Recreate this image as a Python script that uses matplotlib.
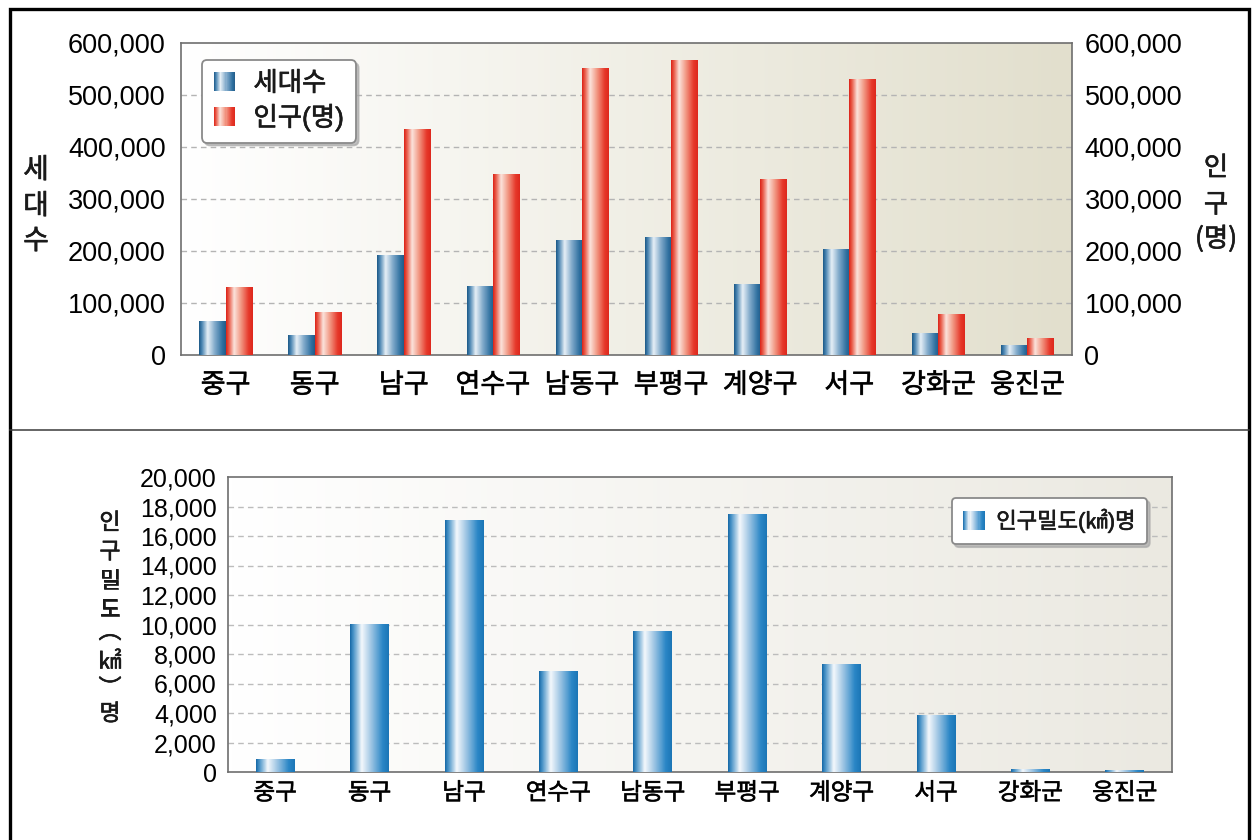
import numpy as np
import matplotlib
matplotlib.use("Agg")
from matplotlib import pyplot as plt
from matplotlib import patheffects
from matplotlib.colors import LinearSegmentedColormap
from matplotlib.patches import Rectangle, Patch
from matplotlib.lines import Line2D
from matplotlib.legend_handler import HandlerBase
from matplotlib.ticker import StrMethodFormatter

plt.rcParams["font.family"] = ["Liberation Sans", "Noto Sans CJK KR"]
plt.rcParams["text.color"] = "#1a1a1a"

districts = ["중구", "동구", "남구", "연수구", "남동구", "부평구", "계양구", "서구", "강화군", "웅진군"]
households = [64000, 38000, 191000, 131000, 221000, 225000, 136000, 203000, 42000, 19000]
population = [129000, 81000, 433000, 348000, 551000, 566000, 338000, 530000, 78000, 31000]
density = [840, 10030, 17030, 6840, 9530, 17490, 7320, 3800, 160, 120]

W, H = 1252, 840
KR = ["Noto Sans CJK KR"]
# slightly heavier than the regular cut for the Korean labels
THICK = [patheffects.withStroke(linewidth=0.45, foreground="#1a1a1a")]

# cylinder-like shading for the bars
steel = LinearSegmentedColormap.from_list("steel", [
    (0.0, "#1d5a88"), (0.1, "#4a85b2"), (0.32, "#e6eff6"),
    (0.6, "#7ea8c9"), (0.88, "#2e6f9f"), (1.0, "#245c88")])
red = LinearSegmentedColormap.from_list("red", [
    (0.0, "#dc2419"), (0.1, "#e95a48"), (0.3, "#fbe3db"),
    (0.55, "#f29a86"), (0.85, "#e6382a"), (1.0, "#de281d")])
sky = LinearSegmentedColormap.from_list("sky", [
    (0.0, "#186aa8"), (0.08, "#4a94c8"), (0.3, "#f4f8fc"),
    (0.55, "#9cc4e3"), (0.85, "#2a86c6"), (1.0, "#1c76b6")])


def px(x, y):
    return x / W, 1 - y / H


def shade_bars(ax, bars, cmap):
    grad = cmap(np.linspace(0, 1, 64))[None, :, :3]
    for r in bars:
        x0, w, h = r.get_x(), r.get_width(), r.get_height()
        ax.imshow(grad, extent=[x0, x0 + w, 0, h], aspect="auto",
                  interpolation="bilinear", zorder=3)
        r.set_visible(False)


def paint_background(ax, right_color):
    c0 = np.array([1.0, 1.0, 1.0])
    c1 = np.array(matplotlib.colors.to_rgb(right_color))
    t = np.linspace(0, 1, 128)[:, None]
    bg = (c0 + (c1 - c0) * t)[None, :, :]
    ax.imshow(bg, extent=[0, 1, 0, 1], transform=ax.transAxes, aspect="auto",
              interpolation="bilinear", zorder=0)


class GradientHandler(HandlerBase):
    def __init__(self, cmap):
        super().__init__()
        self.cmap = cmap

    def create_artists(self, legend, orig_handle, xdescent, ydescent,
                       width, height, fontsize, trans):
        n = 20
        out = []
        for i in range(n):
            out.append(Rectangle((-xdescent + width * i / n, -ydescent),
                                 width / n * 1.05, height,
                                 facecolor=self.cmap((i + 0.5) / n),
                                 edgecolor="none", transform=trans))
        return out


def style_axes(ax):
    for s in ax.spines.values():
        s.set_color("#6e6e6e")
        s.set_linewidth(1.2)
    ax.tick_params(length=0)


fig = plt.figure(figsize=(W / 100, H / 100), dpi=100)
x = np.arange(len(districts))

# ---- top: households / population ----
ax = fig.add_axes([181 / W, 1 - 355 / H, (1072 - 181) / W, (355 - 43) / H])
ax2 = ax.twinx()
paint_background(ax, "#e2dfcd")
bw = 0.295
b1 = ax.bar(x - bw / 2, households, bw)
b2 = ax2.bar(x + bw / 2, population, bw)
shade_bars(ax, b1, steel)
shade_bars(ax2, b2, red)
for a in (ax, ax2):
    a.set_xlim(-0.5, len(districts) - 0.5)
    a.set_ylim(0, 600000)
    a.set_yticks(range(0, 600001, 100000))
    a.yaxis.set_major_formatter(StrMethodFormatter("{x:,.0f}"))
    style_axes(a)
ax.set_xticks(x)
ax.set_xticklabels(districts, fontsize=19.5, family=KR, path_effects=THICK)
ax.tick_params(axis="x", pad=12)
ax.tick_params(axis="y", labelsize=19.5, pad=11)
ax2.tick_params(axis="y", labelsize=19.5, pad=9)
for s in ax2.spines.values():
    s.set_visible(False)
for g in range(100000, 600000, 100000):
    ax.axhline(g, color="#b4b4b4", lw=1.0, ls=(0, (4, 3)), zorder=1)

h1 = Patch(label="세대수")
h2 = Patch(label="인구(명)")
leg = ax2.legend(handles=[h1, h2], loc="upper left",
                 bbox_to_anchor=(21 / 891, 1 - 17 / 312), borderaxespad=0,
                 prop={"size": 19},
                 handlelength=0.8, handleheight=0.75,
                 handletextpad=0.7, labelspacing=0.3, borderpad=0.45,
                 fancybox=True, framealpha=1, edgecolor="#8a8a8a",
                 shadow={"color": "#a8a8a8", "alpha": 0.7},
                 handler_map={h1: GradientHandler(steel), h2: GradientHandler(red)})
leg.get_frame().set_linewidth(1.3)
for t in leg.get_texts():
    t.set_path_effects(THICK)

for ch, yy in zip("세대수", [170, 206, 241]):
    fig.text(*px(36, yy), ch, fontsize=20, ha="center", va="center",
             family=KR, path_effects=THICK)
for ch, yy in zip(["인", "구", "(명)"], [168, 205, 239]):
    fig.text(*px(1216, yy), ch, fontsize=19, ha="center", va="center",
             family=KR, path_effects=THICK)

# ---- bottom: population density ----
bx = fig.add_axes([228 / W, 1 - 772 / H, (1172 - 228) / W, (772 - 477) / H])
paint_background(bx, "#ebe9e1")
b3 = bx.bar(x, density, 0.41)
shade_bars(bx, b3, sky)
bx.set_xlim(-0.5, len(districts) - 0.5)
bx.set_ylim(0, 20000)
bx.set_yticks(range(0, 20001, 2000))
bx.yaxis.set_major_formatter(StrMethodFormatter("{x:,.0f}"))
bx.set_xticks(x)
bx.set_xticklabels(districts, fontsize=17, family=KR, path_effects=THICK)
bx.tick_params(axis="x", pad=7)
bx.tick_params(axis="y", labelsize=18, pad=8)
style_axes(bx)
for g in range(2000, 20000, 2000):
    bx.axhline(g, color="#bcbcbc", lw=1.0, ls=(0, (4, 3)), zorder=1)

h3 = Patch(label="인구밀도(㎢)명")
leg2 = bx.legend(handles=[h3], loc="upper right",
                 bbox_to_anchor=(1 - 25 / 944, 1 - 21 / 295), borderaxespad=0,
                 prop={"size": 16},
                 handlelength=1.0, handleheight=0.9,
                 handletextpad=0.5, borderpad=0.5, fancybox=True,
                 framealpha=1, edgecolor="#8a8a8a",
                 shadow={"color": "#a8a8a8", "alpha": 0.7},
                 handler_map={h3: GradientHandler(sky)})
leg2.get_frame().set_linewidth(1.3)
for t in leg2.get_texts():
    t.set_path_effects(THICK)

label_chars = [("인", 523), ("구", 552), ("밀", 581), ("도", 610),
               ("︵", 632), ("㎢", 662), ("︶", 689), ("명", 714)]
for ch, yy in label_chars:
    fig.text(*px(110, yy), ch, fontsize=16.5, ha="center", va="center",
             family=KR, path_effects=THICK)

# page frame and divider
fig.add_artist(Rectangle(px(9.5, 860), (1248.5 - 9.5) / W, (860 - 9.5) / H,
                         transform=fig.transFigure, fill=False,
                         edgecolor="black", lw=2.4, clip_on=False))
fig.add_artist(Line2D([9.5 / W, 1248.5 / W], [1 - 430 / H] * 2,
                      transform=fig.transFigure, color="#3a3a3a", lw=1.1))

fig.savefig("out.png", dpi=100)
